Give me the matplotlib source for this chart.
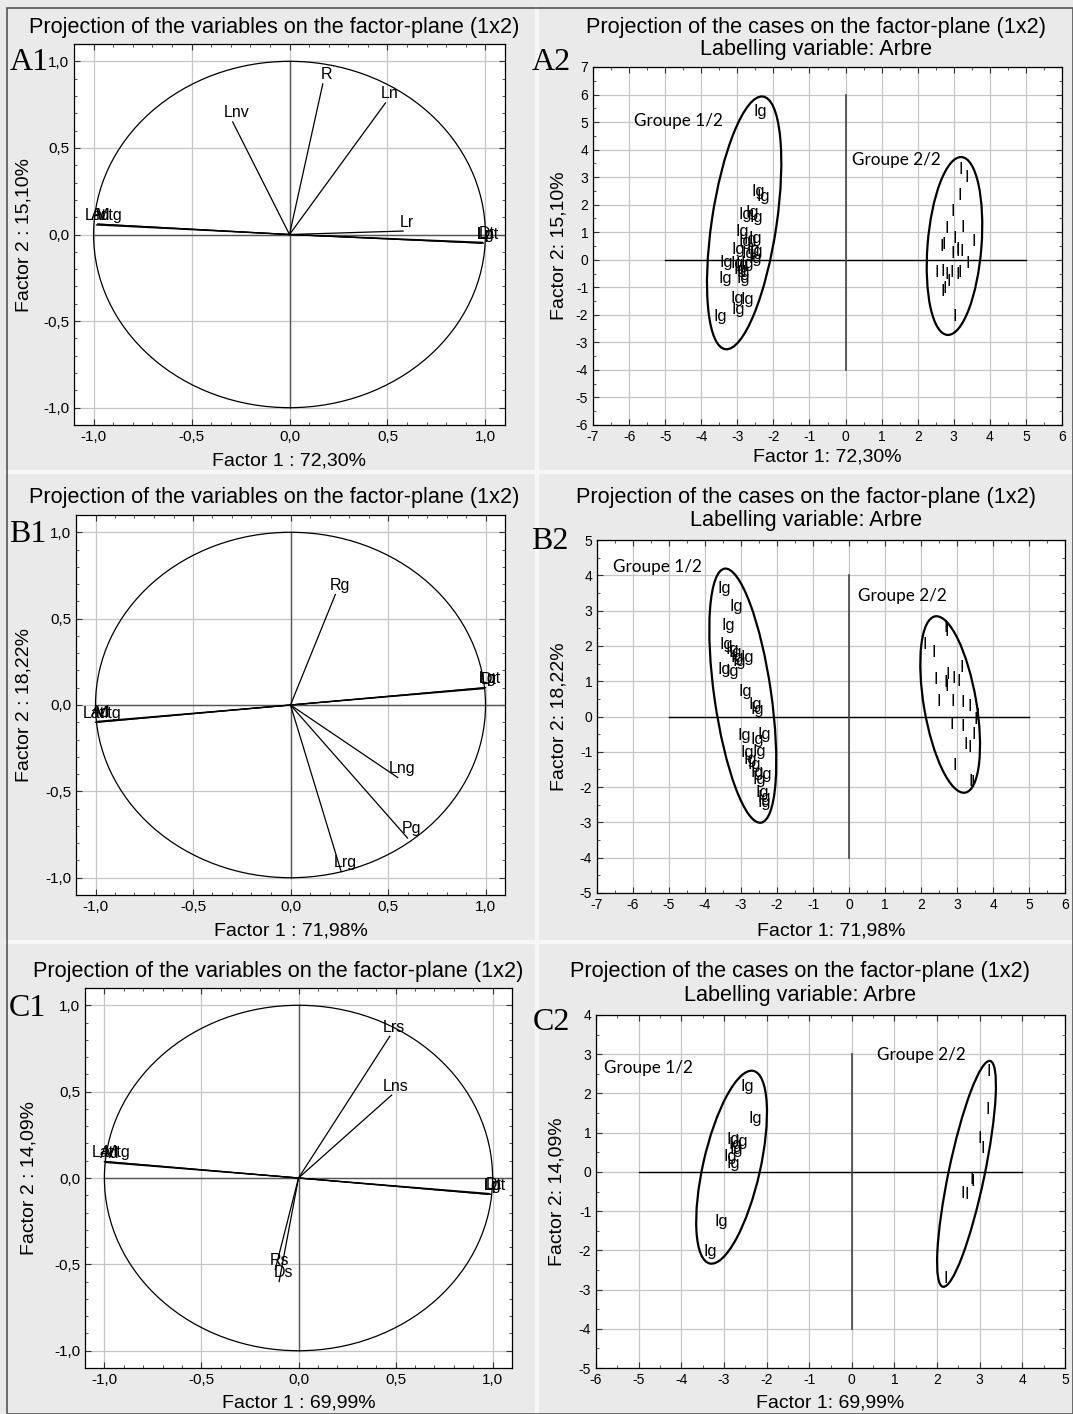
import numpy as np
import matplotlib
matplotlib.use("Agg")
import matplotlib.pyplot as plt
from matplotlib.patches import Ellipse, Circle, Rectangle
from matplotlib.ticker import MultipleLocator, FuncFormatter

# ============================================================
# DATA: variable loadings (left column)
# ============================================================

A1_VARS = ["R", "Ln", "Lnv", "Lr", "Lat", "Ad", "Mtg", "Lgt", "Dt", "Lp"]
A1_F1 = [0.17, 0.49, -0.29, 0.58, -0.98, -0.985, -0.975, 0.99, 0.985, 0.98]
A1_F2 = [0.87, 0.76, 0.65, 0.02, 0.06, 0.055, 0.06, -0.05, -0.045, -0.05]

B1_VARS = ["Rg", "Lng", "Pg", "Lrg", "Lat", "Ad", "Mtg", "Lgt", "Dt", "Lp"]
B1_F1 = [0.23, 0.55, 0.60, 0.26, -1.0, -0.995, -0.99, 1.0, 0.995, 0.99]
B1_F2 = [0.64, -0.42, -0.77, -0.965, -0.10, -0.095, -0.10, 0.10, 0.095, 0.10]

C1_VARS = ["Lrs", "Lns", "Rs", "Ds", "Lat", "Ad", "Mtg", "Lgt", "Dt", "Lp"]
C1_F1 = [0.47, 0.48, -0.12, -0.10, -1.0, -0.995, -0.99, 0.99, 0.985, 0.98]
C1_F2 = [0.82, 0.48, -0.53, -0.60, 0.095, 0.09, 0.095, -0.095, -0.09, -0.095]

# ============================================================
# DATA: case scores (right column), group 1 = "Ig", group 2 = "I"
# ============================================================

A2_G1_X = [-2.55, -2.62, -2.46, -2.97, -2.77, -2.65, -3.06, -2.97, -2.83, -2.69, -2.74,
           -2.65, -3.16, -2.88, -2.69, -3.48, -3.20, -3.06, -2.92, -3.11, -3.02, -3.53,
           -3.02, -3.20, -2.92, -3.16, -3.67]
A2_G1_Y = [5.37, 2.48, 2.30, 1.64, 1.72, 1.52, 1.03, 0.67, 0.73, 0.79, 0.36,
           0.30, 0.36, 0.24, 0.06, -0.10, -0.12, -0.18, -0.12, -0.36, -0.48, -0.67,
           -0.67, -1.39, -1.45, -1.82, -2.06]
A2_G2_X = [3.14, 3.30, 3.09, 2.92, 2.74, 3.20, 2.97, 3.48, 2.60, 2.66, 2.92, 3.06, 3.04,
           3.16, 3.32, 2.46, 2.62, 2.74, 2.88, 3.06, 3.11, 2.79, 2.69, 2.62, 2.97]
A2_G2_Y = [3.27, 2.97, 2.33, 1.76, 1.15, 1.18, 0.79, 0.67, 0.48, 0.55, 0.24, 0.36, 0.30,
           0.30, -0.12, -0.48, -0.42, -0.55, -0.48, -0.55, -0.48, -0.79, -1.03, -1.15, -2.06]

B2_G1_X = [-3.64, -3.31, -3.55, -3.60, -3.44, -3.35, -3.29, -3.24, -3.01, -3.65, -3.42,
           -3.06, -2.78, -2.73, -3.10, -2.73, -2.55, -3.01, -2.69, -2.92, -2.83, -2.73,
           -2.50, -2.69, -2.60, -2.55, -2.53]
B2_G1_Y = [3.62, 3.11, 2.59, 2.04, 1.90, 1.80, 1.66, 1.57, 1.66, 1.33, 1.28,
           0.72, 0.34, 0.20, -0.55, -0.65, -0.51, -1.03, -0.98, -1.22, -1.36, -1.60,
           -1.64, -1.79, -2.16, -2.30, -2.44]
B2_G2_X = [2.62, 2.64, 2.04, 2.29, 3.08, 2.34, 2.69, 2.84, 2.62, 2.65, 3.00, 2.43, 2.82,
           3.09, 3.30, 3.51, 3.47, 2.78, 3.09, 3.41, 3.19, 3.29, 2.87, 3.33, 3.37]
B2_G2_Y = [2.51, 2.42, 2.04, 1.80, 1.40, 1.05, 1.19, 1.09, 0.95, 0.86, 1.00, 0.42, 0.42,
           0.39, 0.29, 0.02, -0.08, -0.23, -0.27, -0.51, -0.80, -0.89, -1.40, -1.83, -1.88]

C2_G1_X = [-2.62, -2.43, -2.93, -2.75, -2.90, -2.86, -3.02, -2.93, -3.21, -3.48]
C2_G1_Y = [2.17, 1.35, 0.83, 0.77, 0.69, 0.56, 0.39, 0.22, -1.26, -2.04]
C2_G2_X = [3.15, 3.13, 2.94, 3.02, 2.75, 2.78, 2.55, 2.65, 2.14]
C2_G2_Y = [2.55, 1.59, 0.86, 0.60, -0.20, -0.25, -0.54, -0.58, -2.71]

# group ellipses: centre x, centre y, half x-extent, half y-extent, x-shift of top point
A2_ELL = [(-2.81, 1.34, 1.03, 4.59, 0.49), (3.02, 0.50, 0.77, 3.23, 0.18)]
B2_ELL = [(-2.95, 0.59, 0.93, 3.60, -0.48), (2.81, 0.34, 0.83, 2.50, -0.38)]
C2_ELL = [(-2.82, 0.12, 0.83, 2.46, 0.47), (2.69, -0.05, 0.69, 2.88, 0.54)]

# small sideways nudges (points) so the stacked cluster labels smear like the original
LABEL_DX = {"Lat": -4, "Ad": 0, "Mtg": 5}

# ============================================================
# FIGURE
# ============================================================

W, H = 1073, 1414
fig = plt.figure(figsize=(W / 100, H / 100), dpi=100)
fig.patch.set_facecolor("#eaeaea")

SANS = "Liberation Sans"
SERIF = "Liberation Serif"
GROUP_FONT = "Lato"


def px_axes(left, top, right, bottom):
    return fig.add_axes([left / W, 1 - bottom / H, (right - left) / W, (bottom - top) / H])


def fig_text(x, y, s, **kw):
    fig.text(x / W, 1 - y / H, s, **kw)


def comma_fmt(v, pos):
    return f"{v:.1f}".replace(".", ",")


def int_fmt(v, pos):
    return f"{int(round(v))}"


def style_axes(ax, major, minor, fmt, labelsize):
    ax.set_facecolor("white")
    ax.xaxis.set_major_locator(MultipleLocator(major))
    ax.yaxis.set_major_locator(MultipleLocator(major))
    ax.xaxis.set_minor_locator(MultipleLocator(minor))
    ax.yaxis.set_minor_locator(MultipleLocator(minor))
    ax.xaxis.set_major_formatter(FuncFormatter(fmt))
    ax.yaxis.set_major_formatter(FuncFormatter(fmt))
    ax.tick_params(which="both", direction="in", top=True, right=True,
                   labelsize=labelsize, color="#333333")
    ax.tick_params(which="major", length=4)
    ax.tick_params(which="minor", length=2)
    ax.grid(True, which="major", color="#c6c6c6", lw=0.9)
    ax.set_axisbelow(True)
    for sp in ax.spines.values():
        sp.set_linewidth(0.9)
    for lab in ax.get_xticklabels() + ax.get_yticklabels():
        lab.set_fontfamily(SANS)


def set_labels(ax, box, xlab, ylab, xlab_y, ylab_x):
    ax.set_xlabel(xlab, fontsize=14, family=SANS)
    ax.set_ylabel(ylab, fontsize=14, family=SANS)
    h = box[3] - box[1]
    w = box[2] - box[0]
    ax.xaxis.set_label_coords(0.5, -(xlab_y - 9 - box[3]) / h)
    ax.yaxis.set_label_coords((ylab_x + 8 - box[0]) / w, 0.5)


def loadings_panel(box, names, f1, f2, xlab, ylab, xlab_y, ylab_x):
    ax = px_axes(*box)
    ax.set_xlim(-1.1, 1.1)
    ax.set_ylim(-1.1, 1.1)
    style_axes(ax, 0.5, 0.1, comma_fmt, 11)
    ax.plot([-1, 1.1], [0, 0], color="#555555", lw=1.0, zorder=2)
    ax.plot([0, 0], [-1, 1], color="#555555", lw=1.0, zorder=2)
    ax.add_patch(Circle((0, 0), 1.0, fill=False, ec="black", lw=0.9, zorder=3))
    for name, x, y in zip(names, f1, f2):
        ax.plot([0, x], [0, y], color="black", lw=0.9, zorder=4)
        ax.annotate(name, (x, y), xytext=(3 + LABEL_DX.get(name, 0), 6.5),
                    textcoords="offset points", ha="center", va="center",
                    fontsize=11.5, family=SANS, zorder=5)
    set_labels(ax, box, xlab, ylab, xlab_y, ylab_x)
    return ax


def group_ellipse(cx, cy, hx, hy, top_dx):
    cov = np.array([[hx ** 2, top_dx * hy], [top_dx * hy, hy ** 2]])
    vals, vecs = np.linalg.eigh(cov)
    angle = np.degrees(np.arctan2(vecs[1, 1], vecs[0, 1]))
    return Ellipse((cx, cy), 2 * np.sqrt(vals[1]), 2 * np.sqrt(vals[0]), angle=angle,
                   fill=False, ec="black", lw=1.6, zorder=4)


def cases_panel(box, xlim, ylim, hline, vline, g1x, g1y, g2x, g2y, ells,
                grp_pos, xlab, ylab, xlab_y, ylab_x):
    ax = px_axes(*box)
    ax.set_xlim(*xlim)
    ax.set_ylim(*ylim)
    style_axes(ax, 1, 0.5, int_fmt, 10)
    ax.plot(hline, [0, 0], color="black", lw=1.0, zorder=2)
    ax.plot([0, 0], vline, color="#444444", lw=1.2, zorder=2)
    for x, y in zip(g1x, g1y):
        ax.text(x, y, "Ig", ha="left", va="center", fontsize=11.8, family=SANS, zorder=5)
    for x, y in zip(g2x, g2y):
        ax.text(x, y, "I", ha="left", va="center", fontsize=11.8, family=SANS, zorder=5)
    for e in ells:
        ax.add_patch(group_ellipse(*e))
    ax.text(grp_pos[0][0], grp_pos[0][1], "Groupe 1/2", fontsize=12.3, family=GROUP_FONT,
            ha="left", va="center", zorder=5)
    ax.text(grp_pos[1][0], grp_pos[1][1], "Groupe 2/2", fontsize=12.3, family=GROUP_FONT,
            ha="left", va="center", zorder=5)
    set_labels(ax, box, xlab, ylab, xlab_y, ylab_x)
    return ax


# panel separators and outer frame
for y in (472, 942):
    fig.add_artist(plt.Line2D([7 / W, 1], [1 - y / H] * 2, color="#f7f7f7", lw=3, zorder=-5))
fig.add_artist(plt.Line2D([537 / W] * 2, [0, 1 - 8 / H], color="#f7f7f7", lw=3, zorder=-5))
fig.add_artist(Rectangle((7 / W, 0), 1 - 7 / W, 1 - 8 / H, transform=fig.transFigure,
                         fill=False, ec="#555555", lw=1.2, zorder=-4))

# ---------------- row A ----------------
loadings_panel((74, 44, 505, 425), A1_VARS, A1_F1, A1_F2,
               "Factor 1 : 72,30%", "Factor 2 : 15,10%", 461, 25)
cases_panel((593, 67, 1062, 425), (-7, 6), (-6, 7), [-5, 5], [-4, 6],
            A2_G1_X, A2_G1_Y, A2_G2_X, A2_G2_Y, A2_ELL,
            [(-5.85, 5.05), (0.19, 3.64)],
            "Factor 1: 72,30%", "Factor 2: 15,10%", 458, 560)

# ---------------- row B ----------------
loadings_panel((76, 515, 505, 895), B1_VARS, B1_F1, B1_F2,
               "Factor 1 : 71,98%", "Factor 2 : 18,22%", 931, 25)
cases_panel((597, 540, 1065, 893), (-7, 6), (-5, 5), [-5, 5], [-4, 4],
            B2_G1_X, B2_G1_Y, B2_G2_X, B2_G2_Y, B2_ELL,
            [(-6.56, 4.23), (0.26, 3.41)],
            "Factor 1: 71,98%", "Factor 2: 18,22%", 931, 560)

# ---------------- row C ----------------
loadings_panel((85, 988, 512, 1368), C1_VARS, C1_F1, C1_F2,
               "Factor 1 : 69,99%", "Factor 2 : 14,09%", 1403, 30)
cases_panel((596, 1015, 1065, 1368), (-6, 5), (-5, 4), [-5, 4], [-4, 3],
            C2_G1_X, C2_G1_Y, C2_G2_X, C2_G2_Y, C2_ELL,
            [(-5.82, 2.66), (0.60, 2.98)],
            "Factor 1: 69,99%", "Factor 2: 14,09%", 1403, 557)

# titles
LEFT_TITLE = "Projection of the variables on the factor-plane (1x2)"
RIGHT_TITLE = "Projection of the cases on the factor-plane (1x2)"
SUBTITLE = "Labelling variable: Arbre"
for x, y in [(274, 27), (274, 497), (278, 971)]:
    fig_text(x, y, LEFT_TITLE, ha="center", va="center", fontsize=15.6, family=SANS)
for x, y in [(816, 27), (806, 497), (800, 972)]:
    fig_text(x, y, RIGHT_TITLE, ha="center", va="center", fontsize=15.6, family=SANS)
    fig_text(x, y + 23, SUBTITLE, ha="center", va="center", fontsize=15.6, family=SANS)

# panel letters
for s, x, y in [("A1", 10, 62), ("A2", 532, 62), ("B1", 9, 535),
                ("B2", 531, 541), ("C1", 9, 1009), ("C2", 533, 1023)]:
    fig_text(x, y, s, ha="left", va="center", fontsize=23, family=SERIF)

fig.savefig("out.png", dpi=100, facecolor=fig.get_facecolor())
